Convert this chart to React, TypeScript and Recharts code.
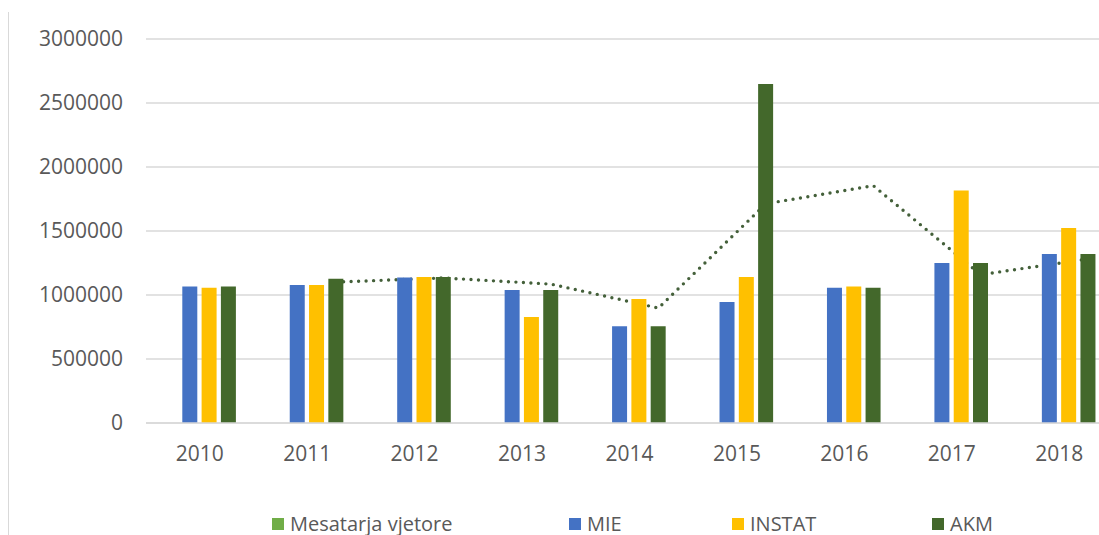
import React from "react";
import {
  ComposedChart,
  Bar,
  Line,
  XAxis,
  YAxis,
  CartesianGrid,
} from "recharts";

const years = ["2010", "2011", "2012", "2013", "2014", "2015", "2016", "2017", "2018"];
const mesatarja: (number | null)[] = [null, null, null, null, null, null, null, null, null];
const mie = [1067000, 1078000, 1137000, 1039000, 755000, 945000, 1057000, 1250000, 1320000];
const instat = [1057000, 1078000, 1141000, 828000, 969000, 1141000, 1067000, 1817000, 1523000];
const akm = [1067000, 1127000, 1141000, 1039000, 755000, 2648000, 1057000, 1250000, 1320000];
// dotted trend line
const trend: (number | null)[] = [null, 1101000, 1133000, 1085000, 898000, 1713000, 1854000, 1159000, 1282000];
const yTicks = [0, 500000, 1000000, 1500000, 2000000, 2500000, 3000000];

const legendItems = [
  { name: "Mesatarja vjetore", color: "#70AD47", left: 264 },
  { name: "MIE", color: "#4472C4", left: 561 },
  { name: "INSTAT", color: "#FFC000", left: 724 },
  { name: "AKM", color: "#43682B", left: 924 },
];

const BAR = 15;
const GAP = 4.3;
const PLOT_W = 967;
// the trend points sit on the AKM bar (4th slot of the cluster)
const AKM_SHIFT = (1.5 * (BAR + GAP)) / (PLOT_W / years.length);

const data = years.map((year, i) => ({
  year,
  mesatarja: mesatarja[i],
  mie: mie[i],
  instat: instat[i],
  akm: akm[i],
  trend: trend[i],
  pos: i + AKM_SHIFT,
}));

const tickStyle = { fill: "#595959", fontSize: 21, fontFamily: "Open Sans" };

export default function App() {
  return (
    <div
      style={{
        position: "absolute",
        left: 8,
        top: 8,
        width: 1091,
        height: 527,
        overflow: "hidden",
        background: "#fff",
      }}
    >
      <div style={{ position: "absolute", left: 0, top: 4, width: 1, height: 523, background: "#D9D9D9" }} />
      <div style={{ position: "absolute", left: 0, top: 0 }}>
        <ComposedChart
          width={1105}
          height={527}
          data={data}
          margin={{ top: 31, right: 0, left: 0, bottom: 72 }}
          barGap={GAP}
        >
          <CartesianGrid vertical={false} stroke="#D9D9D9" strokeWidth={1.3} />
          <XAxis
            dataKey="year"
            tickLine={false}
            axisLine={{ stroke: "#D9D9D9", strokeWidth: 1.3 }}
            tickSize={0}
            tickMargin={23}
            height={40}
            tick={tickStyle}
          />
          <XAxis xAxisId="t" type="number" dataKey="pos" domain={[-0.5, 8.5]} hide allowDataOverflow />
          <YAxis
            domain={[0, 3000000]}
            ticks={yTicks}
            width={138}
            axisLine={false}
            tickLine={false}
            tickSize={0}
            tickMargin={23}
            tick={tickStyle}
          />
          <Line
            xAxisId="t"
            dataKey="trend"
            stroke="#44603A"
            strokeWidth={3.4}
            strokeDasharray="0 7.5"
            strokeLinecap="round"
            dot={false}
            activeDot={false}
            isAnimationActive={false}
            zIndex={250}
          />
          <Bar dataKey="mesatarja" fill="#70AD47" barSize={BAR} isAnimationActive={false} />
          <Bar dataKey="mie" fill="#4472C4" barSize={BAR} isAnimationActive={false} />
          <Bar dataKey="instat" fill="#FFC000" barSize={BAR} isAnimationActive={false} />
          <Bar dataKey="akm" fill="#43682B" barSize={BAR} isAnimationActive={false} />
        </ComposedChart>
      </div>
      {legendItems.map((it) => (
        <div
          key={it.name}
          style={{
            position: "absolute",
            left: it.left,
            top: 506,
            display: "flex",
            alignItems: "center",
            lineHeight: "20px",
            fontFamily: "Open Sans",
            fontSize: 20,
            color: "#595959",
            whiteSpace: "nowrap",
          }}
        >
          <span style={{ display: "inline-block", width: 12, height: 12, background: it.color, marginRight: 6 }} />
          {it.name}
        </div>
      ))}
    </div>
  );
}
